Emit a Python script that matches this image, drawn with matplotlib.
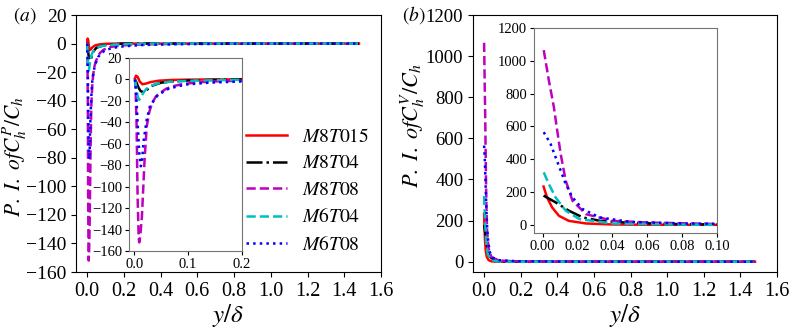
import matplotlib
matplotlib.use('Agg')
import matplotlib.pyplot as plt

plt.rcParams['font.family'] = ['Liberation Serif', 'DejaVu Serif']
plt.rcParams['mathtext.fontset'] = 'stix'

labels = [r'$M8T015$', r'$M8T04$', r'$M8T08$', r'$M6T04$', r'$M6T08$']
colors = ['r', 'k', 'm', 'c', 'b']
styles = ['-', '-.', '--', '--', ':']

# (a) P.I. of C_h^P / C_h
xa_m8t015 = [0.001, 0.003, 0.006, 0.010, 0.015, 0.022, 0.030, 0.045, 0.07, 0.10, 0.15, 0.2, 0.4, 0.8, 1.2, 1.48]
ya_m8t015 = [1.0, 3.5, 2.5, -2.0, -4.5, -3.8, -2.5, -1.2, -0.5, -0.2, 0, 0, 0, 0, 0, 0]
xa_m8t04 = [0.001, 0.004, 0.008, 0.012, 0.018, 0.025, 0.035, 0.05, 0.07, 0.10, 0.15, 0.2, 0.4, 0.8, 1.2, 1.48]
ya_m8t04 = [0, -3, -8, -11, -12, -9, -5.5, -3, -2, -1, -0.4, 0, 0, 0, 0, 0]
xa_m8t08 = [0.001, 0.002, 0.004, 0.006, 0.008, 0.009, 0.011, 0.014, 0.019, 0.023, 0.028, 0.033, 0.040,
            0.048, 0.06, 0.073, 0.09, 0.123, 0.16, 0.2, 0.3, 0.5, 0.8, 1.2, 1.48]
ya_m8t08 = [0, -5, -40, -110, -148, -152, -146, -128, -75, -44, -30, -22, -16,
            -12.5, -8.5, -6.2, -4.3, -2.5, -1.7, -1.2, -0.6, -0.2, 0, 0, 0]
xa_m6t04 = [0.001, 0.003, 0.006, 0.009, 0.012, 0.016, 0.022, 0.030, 0.045, 0.07, 0.10, 0.15, 0.2, 0.4, 0.8, 1.2, 1.48]
ya_m6t04 = [0, -6, -16, -19, -17, -13, -9, -6, -3.5, -2, -1.3, -0.7, -0.4, 0, 0, 0, 0]
xa_m6t08 = [0.001, 0.003, 0.006, 0.009, 0.012, 0.014, 0.017, 0.023, 0.029, 0.042, 0.06, 0.08, 0.098,
            0.14, 0.2, 0.3, 0.5, 0.8, 1.2, 1.48]
ya_m6t08 = [0, -10, -40, -68, -81, -78, -58, -37.5, -25, -15.5, -9.4, -6.5, -4.7,
            -3, -1.9, -1, -0.4, -0.1, 0, 0]

# (b) P.I. of C_h^V / C_h
xb_m8t015 = [0.0005, 0.0025, 0.0054, 0.0093, 0.015, 0.025, 0.04, 0.06, 0.1, 0.2, 0.5, 1.0, 1.48]
yb_m8t015 = [233, 167, 106, 55, 24, 8, 2, 0.5, 0, 0, 0, 0, 0]
xb_m8t04 = [0.0005, 0.0074, 0.015, 0.023, 0.033, 0.05, 0.079, 0.1, 0.2, 0.5, 1.0, 1.48]
yb_m8t04 = [178, 137, 86, 45, 24, 12, 4, 2, 0.5, 0, 0, 0]
xb_m8t08 = [0.0006, 0.0035, 0.0064, 0.0083, 0.0103, 0.0132, 0.0171, 0.0248, 0.0403, 0.06, 0.1, 0.2, 0.5, 1.0, 1.48]
yb_m8t08 = [1065, 882, 718, 576, 433, 269, 147, 65, 24, 14, 5, 1, 0, 0, 0]
xb_m6t04 = [0.0006, 0.0035, 0.0074, 0.0132, 0.021, 0.04, 0.079, 0.1, 0.2, 0.5, 1.0, 1.48]
yb_m6t04 = [320, 249, 167, 86, 35, 8, 1, 0.5, 0, 0, 0, 0]
xb_m6t08 = [0.0006, 0.0045, 0.0074, 0.0103, 0.0132, 0.0171, 0.0229, 0.0326, 0.05, 0.079, 0.1, 0.2, 0.5, 1.0, 1.48]
yb_m6t08 = [565, 494, 412, 331, 249, 167, 96, 45, 18, 8, 6, 2, 0.5, 0, 0]

data_a = [(xa_m8t015, ya_m8t015), (xa_m8t04, ya_m8t04), (xa_m8t08, ya_m8t08),
          (xa_m6t04, ya_m6t04), (xa_m6t08, ya_m6t08)]
data_b = [(xb_m8t015, yb_m8t015), (xb_m8t04, yb_m8t04), (xb_m8t08, yb_m8t08),
          (xb_m6t04, yb_m6t04), (xb_m6t08, yb_m6t08)]

fig = plt.figure(figsize=(7.97, 3.28), dpi=100)
ax1 = fig.add_axes([0.0954, 0.1707, 0.3827, 0.7835])
ax2 = fig.add_axes([0.5935, 0.1707, 0.3814, 0.7835])
ins1 = fig.add_axes([0.1619, 0.2348, 0.1412, 0.5884])
ins2 = fig.add_axes([0.670, 0.2896, 0.2296, 0.625])

lw = 1.8
for ax, data in [(ax1, data_a), (ins1, data_a), (ax2, data_b), (ins2, data_b)]:
    for (x, y), c, ls, lab in zip(data, colors, styles, labels):
        ax.plot(x, y, color=c, ls=ls, lw=lw, label=lab)

# main axes
for ax in (ax1, ax2):
    ax.set_xlim(-0.06, 1.6)
    ax.set_xticks([0.0, 0.2, 0.4, 0.6, 0.8, 1.0, 1.2, 1.4, 1.6])
    ax.tick_params(axis='x', labelsize=14.5)
    ax.set_xlabel(r'$y/\delta$', fontsize=18, labelpad=1)

ax1.set_ylim(-160, 20)
ax1.set_yticks(range(-160, 21, 20))
ax1.tick_params(axis='y', labelsize=14)
ax1.set_ylabel(r'$P.\ I.\ of C_h^P/C_h$', fontsize=15.5)
ax1.yaxis.set_label_coords(-0.153, 0.45)

ax2.set_ylim(-50, 1200)
ax2.set_yticks(range(0, 1201, 200))
ax2.tick_params(axis='y', labelsize=13.5)
ax2.set_ylabel(r'$P.\ I.\ of C_h^V/C_h$', fontsize=16)
ax2.yaxis.set_label_coords(-0.152, 0.57)

# insets
ins1.set_xlim(-0.01, 0.2)
ins1.set_ylim(-160, 20)
ins1.set_xticks([0.0, 0.1, 0.2])
ins1.set_yticks(range(-160, 21, 20))

ins2.set_xlim(-0.005, 0.1)
ins2.set_ylim(-50, 1200)
ins2.set_xticks([0.00, 0.02, 0.04, 0.06, 0.08, 0.10])
ins2.set_xticklabels(['0.00', '0.02', '0.04', '0.06', '0.08', '0.10'])
ins2.set_yticks(range(0, 1201, 200))

for ins in (ins1, ins2):
    ins.tick_params(labelsize=10.5, length=3, pad=2)
    for s in ins.spines.values():
        s.set_color('0.45')

ax1.legend(loc='center left', bbox_to_anchor=(0.5, 0.315), frameon=False,
           fontsize=14, handlelength=2.1, labelspacing=0.45, handletextpad=0.8)

fig.text(0.016, 0.954, r'$(a)$', fontsize=14, va='center')
fig.text(0.504, 0.954, r'$(b)$', fontsize=14, va='center')

fig.savefig('out.png', dpi=100)
